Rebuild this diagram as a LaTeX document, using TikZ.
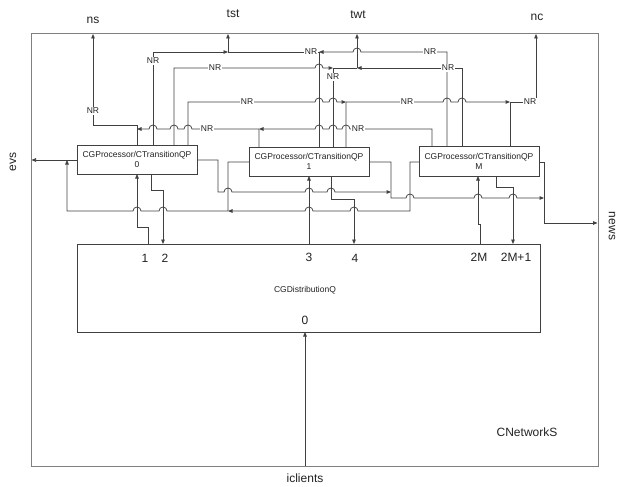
\documentclass[tikz,border=0pt]{standalone}
\usepackage{fontspec}
\setmainfont{Liberation Sans}
\usetikzlibrary{arrows.meta}
\newcommand\hopR[2]{-- ({#1-4},#2) arc[start angle=180,end angle=0,radius=4pt]}
\newcommand\hopL[2]{-- ({#1+4},#2) arc[start angle=0,end angle=180,radius=4pt]}
\definecolor{lnc}{HTML}{404040}
\definecolor{frc}{HTML}{808080}
\definecolor{txc}{HTML}{222222}
\begin{document}
\begin{tikzpicture}[x=1pt,y=-1pt,
  ln/.style={draw=lnc,line width=0.75pt},
  arr/.style={-{Triangle[length=4.5pt,width=3.6pt]}},
  box/.style={draw=lnc,line width=0.75pt,fill=white,inner sep=0pt,align=center,
    font=\fontsize{8.5}{10}\selectfont,text=txc},
  nr/.style={fill=white,inner sep=0.6pt,font=\fontsize{8.5}{10}\selectfont,text=txc},
  big/.style={inner sep=0pt,font=\fontsize{12}{14}\selectfont,text=txc},
  small/.style={inner sep=0pt,font=\fontsize{8.5}{10}\selectfont,text=txc}]
\useasboundingbox (0,0) rectangle (621,487);
% frame
\node[draw=frc,line width=0.9pt,minimum width=567pt,minimum height=433pt,inner sep=0pt] (F) at (314.5,249.5) {};
% distribution box
\node[box,minimum width=463pt,minimum height=88pt] (D) at (308.5,288) {};
\node[small] (dq) at (305,290) {CGDistributionQ};
\node[big] (d0) at (305,320) {0};
\node[big] (d1) at (145,258) {1};
\node[big] (d2) at (165,258) {2};
\node[big] (d3) at (309,257) {3};
\node[big] (d4) at (355,258) {4};
\node[big] (d2m) at (479,257) {2M};
\node[big] (d2m1) at (516,257) {2M+1};
% outer labels
\node[big] (ns) at (93,20) {ns};
\node[big] (tst) at (233,14) {tst};
\node[big] (twt) at (358,15) {twt};
\node[big] (nc) at (537,17) {nc};
\node[big,rotate=90] (evs) at (13,162) {evs};
\node[big,rotate=-90] (news) at (612,226) {news};
\node[big] (icl) at (305,478) {iclients};
\node[big] (cns) at (527,432) {CNetworkS};
% coordinates on frame
\coordinate (nsT) at (93,34);
\coordinate (tstT) at (228,34);
\coordinate (twtT) at (357,34);
\coordinate (ncT) at (536,34);
\coordinate (evsL) at (31.5,160);
\coordinate (newsR) at (597.5,223);
\coordinate (iclB) at (305,466);
% junctions
\coordinate (tstJ) at (228,52);
\coordinate (twtJ) at (357,68);
% pins
\coordinate (p0ns) at (137,145); \coordinate (p0tst) at (153,145);
\coordinate (p0twt) at (174,145); \coordinate (p0nc) at (188,145);
\coordinate (p1ns) at (259,147); \coordinate (p1tst) at (319,147);
\coordinate (p1twt) at (333,147); \coordinate (p1nc) at (346,147);
\coordinate (pmns) at (432,146); \coordinate (pmtst) at (447,146);
\coordinate (pmtwt) at (462,146); \coordinate (pmnc) at (510,146);
\coordinate (p0in) at (137,174); \coordinate (p0out) at (151,174);
\coordinate (p1in) at (309,176); \coordinate (p1out) at (331,176);
\coordinate (pmin) at (478,176); \coordinate (pmout) at (496,176);
\coordinate (q1) at (148,244); \coordinate (q2) at (163,244);
\coordinate (q3) at (309,244); \coordinate (q4) at (354,244);
\coordinate (q2m) at (480,244); \coordinate (q2m1) at (513,244);
\coordinate (q0) at (305,332);
\coordinate (p0w) at (77,160); \coordinate (p0e) at (197,160);
\coordinate (p1w) at (249,162); \coordinate (p1e) at (369,162);
\coordinate (pmw) at (419,162); \coordinate (pme) at (539,162);
% ---- top connectors
% ns
\draw[ln,arr] (p0ns) -- (137,125) -- (93,125) -- (nsT);
\draw[ln,arr] (p1ns) -- (259,129) \hopL{188}{129} \hopL{174}{129} \hopL{153}{129} -- (p0ns |- 0,129);
\draw[ln,arr] (pmns) -- (432,129) \hopL{346}{129} \hopL{333}{129} \hopL{319}{129} -- (p1ns |- 0,129);
% tst
\draw[ln,arr] (p0tst) -- (153,52) -- (tstJ);
\draw[ln] (p1tst) -- (319,52) -- (tstJ);
\draw[ln,arr] (pmtst) -- (447,52) \hopL{357}{52} -- (p1tst |- 0,52);
\draw[ln,arr] (tstJ) -- (tstT);
% twt
\draw[ln,arr] (p0twt) -- (174,68) \hopR{319}{68} -- (p1twt |- 0,68);
\draw[ln] (p1twt) -- (333,68) -- (twtJ);
\draw[ln,arr] (pmtwt) -- (462,68) -- (twtJ);
\draw[ln,arr] (twtJ) -- (twtT);
% nc
\draw[ln,arr] (p0nc) -- (188,102) \hopR{319}{102} \hopR{333}{102} -- (p1nc |- 0,102);
\draw[ln,arr] (p1nc) -- (346,102) \hopR{447}{102} \hopR{462}{102} -- (pmnc |- 0,102);
\draw[ln,arr] (pmnc) -- (510,102) -- (536,102) -- (ncT);
% ---- evs
\draw[ln,arr] (p0w) -- (evsL);
\draw[ln,arr] (p1w) -- (228,162) -- (228,211) \hopL{163}{211} \hopL{137}{211} -- (67,211) -- (67,160);
\draw[ln,arr] (pmw) -- (410,162) -- (410,211) \hopL{354}{211} \hopL{309}{211} -- (228,211);
% ---- news
\draw[ln,arr] (p0e) -- (218,160) -- (218,192) \hopR{228}{192} \hopR{309}{192} \hopR{331}{192} -- (391,192);
\draw[ln,arr] (p1e) -- (391,162) -- (391,198) \hopR{410}{198} \hopR{478}{198} \hopR{513}{198} -- (544,198);
\draw[ln,arr] (pme) -- (544,162) -- (544,223) -- (newsR);
% ---- distribution pins
\draw[ln,arr] (q1) -- (148,227) -- (137,227) -- (p0in);
\draw[ln,arr] (p0out) -- (151,190) -- (163,190) -- (q2);
\draw[ln,arr] (q3) -- (p1in);
\draw[ln,arr] (p1out) -- (331,199) -- (354,199) -- (q4);
\draw[ln,arr] (q2m) -- (480,224) -- (478,224) -- (pmin);
\draw[ln,arr] (pmout) -- (496,187) -- (513,187) -- (q2m1);
\draw[ln,arr] (iclB) -- (q0);
% processor boxes
\node[box,minimum width=120pt,minimum height=29pt] (P0) at (137,159.5) {CGProcessor/CTransitionQP\\0};
\node[box,minimum width=120pt,minimum height=29pt] (P1) at (309,161.5) {CGProcessor/CTransitionQP\\1};
\node[box,minimum width=120pt,minimum height=30pt] (PM) at (479,161) {CGProcessor/CTransitionQP\\M};
% NR labels
\node[nr] (n1) at (93,111) {NR};
\node[nr] (n2) at (153,61) {NR};
\node[nr] (n3) at (215,68) {NR};
\node[nr] (n4) at (247,102) {NR};
\node[nr] (n5) at (207,129) {NR};
\node[nr] (n6) at (311,52) {NR};
\node[nr] (n7) at (333,77) {NR};
\node[nr] (n8) at (407,102) {NR};
\node[nr] (n9) at (358,129) {NR};
\node[nr] (n10) at (430,52) {NR};
\node[nr] (n11) at (448,68) {NR};
\node[nr] (n12) at (530,102) {NR};
\end{tikzpicture}
\end{document}
